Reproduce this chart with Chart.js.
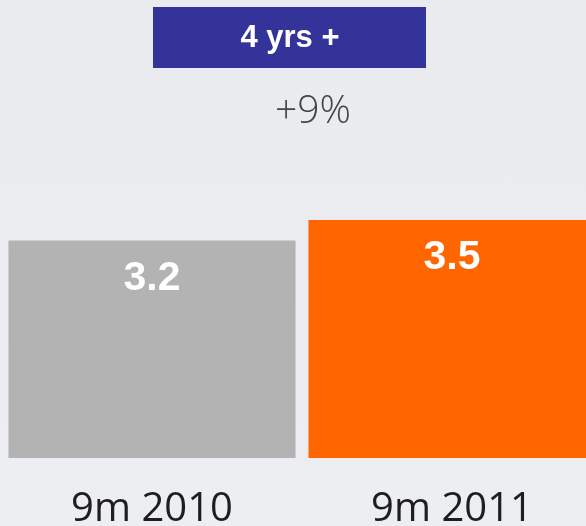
<!DOCTYPE html>
<html>
<head>
<meta charset="utf-8">
<script src="https://cdn.jsdelivr.net/npm/chart.js@4"></script>
<style>
  html, body { margin: 0; padding: 0; overflow: hidden; }
  body { width: 586px; height: 526px; background: linear-gradient(#e9ebef, #eceef1); }
  #wrap { width: 604px; height: 526px; }
</style>
</head>
<body>
<div id="wrap"><canvas id="barChart" width="604" height="526"></canvas></div>
<script>
var categories = ["9m 2010", "9m 2011"];
var values = [3.2, 3.5];
var barColors = ["#b3b3b3", "#ff6600"];
var headerText = "4 yrs +";
var growthText = "+9%";

// header box + growth label above the bars
var headerPlugin = {
  id: 'header',
  afterDraw: function(chart) {
    var ctx = chart.ctx;
    ctx.save();
    ctx.fillStyle = '#333399';
    ctx.fillRect(153, 7, 273, 61);
    ctx.fillStyle = '#ffffff';
    ctx.font = 'bold 31px "Liberation Sans", Arial, sans-serif';
    ctx.textAlign = 'center';
    ctx.textBaseline = 'middle';
    ctx.fillText(headerText, 290, 38);
    ctx.fillStyle = '#444444';
    ctx.font = '300 39px "Open Sans", sans-serif';
    ctx.fillText(growthText, 313, 112);
    ctx.restore();
  }
};

// white value labels inside the bars
var valuePlugin = {
  id: 'values',
  afterDatasetsDraw: function(chart) {
    var ctx = chart.ctx;
    var meta = chart.getDatasetMeta(0);
    ctx.save();
    ctx.fillStyle = '#ffffff';
    ctx.font = 'bold 41px "Liberation Sans", Arial, sans-serif';
    ctx.textAlign = 'center';
    ctx.textBaseline = 'middle';
    meta.data.forEach(function(bar, i) {
      ctx.fillText(values[i].toFixed(1), bar.x, bar.y + 38);
    });
    ctx.restore();
  }
};

var ctx = document.getElementById("barChart").getContext('2d');
var myBarChart = new Chart(ctx, {
  type: 'bar',
  data: {
    labels: categories,
    datasets: [{
      data: values,
      backgroundColor: barColors,
      borderWidth: 0,
      barPercentage: 0.957,
      categoryPercentage: 1
    }]
  },
  options: {
    responsive: false,
    animation: false,
    layout: { padding: { top: 118, left: 2, right: 2, bottom: 0 } },
    plugins: { legend: { display: false }, tooltip: { enabled: false } },
    scales: {
      x: {
        grid: { display: false },
        border: { display: false },
        ticks: {
          color: '#1e1e1e',
          padding: 20,
          font: { family: '"Open Sans", sans-serif', size: 40 }
        },
        afterFit: function(s) { s.height = 68; }
      },
      y: {
        display: false,
        min: 0,
        max: 5
      }
    }
  },
  plugins: [headerPlugin, valuePlugin]
});
</script>
</body>
</html>
